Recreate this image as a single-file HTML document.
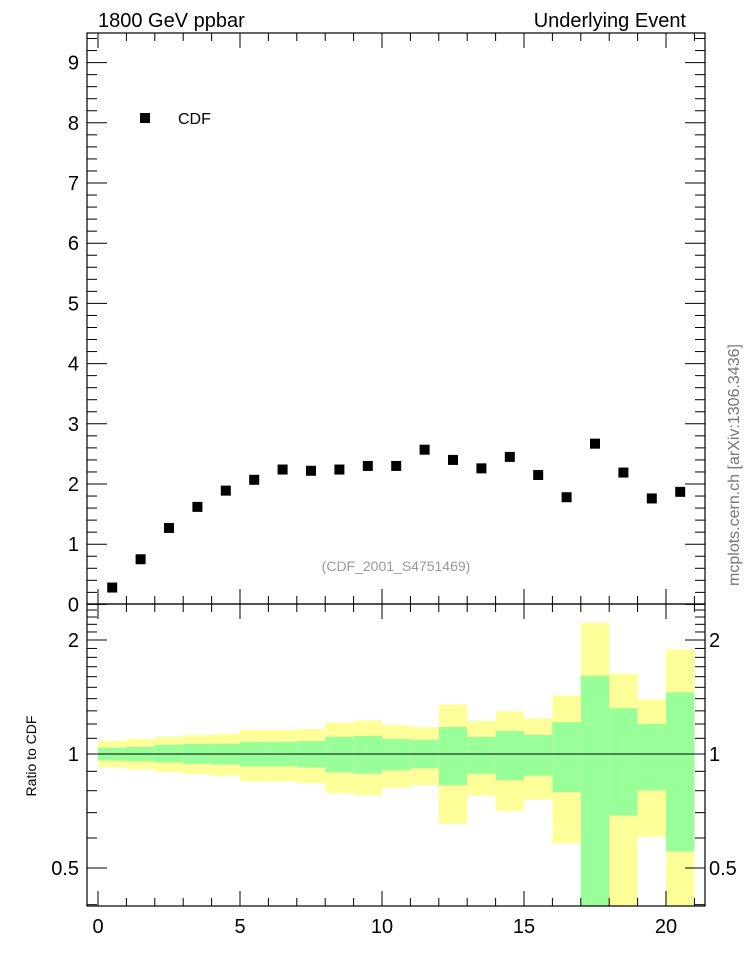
<!DOCTYPE html>
<html><head><meta charset="utf-8"><style>
html,body{margin:0;padding:0;background:#fff}
svg{display:block;font-family:"Liberation Sans",sans-serif}
</style></head><body>
<svg id="c" width="746" height="972" viewBox="0 0 746 972" xmlns="http://www.w3.org/2000/svg">
<text x="98" y="27" font-size="20">1800 GeV ppbar</text>
<text x="686" y="27" font-size="20" text-anchor="end">Underlying Event</text>
<text transform="translate(739,465) rotate(-90)" font-size="16" fill="#777" text-anchor="middle">mcplots.cern.ch [arXiv:1306.3436]</text>
<text x="396" y="571" font-size="14" fill="#999" text-anchor="middle">(CDF_2001_S4751469)</text>
<rect x="140" y="113" width="10" height="10" fill="#000"/>
<text x="178" y="124" font-size="16">CDF</text>
<text transform="translate(36,756) rotate(-90)" font-size="14" text-anchor="middle">Ratio to CDF</text>
<g id="bands"></g><g id="pts"></g><g id="axes"></g>
</svg>
<script>
const binEdges=[0,1,2,3,4,5,6,7,8,9,10,11,12,13,14,15,16,17,18,19,20,21];
const xCenters=[0.5,1.5,2.5,3.5,4.5,5.5,6.5,7.5,8.5,9.5,10.5,11.5,12.5,13.5,14.5,15.5,16.5,17.5,18.5,19.5,20.5];
const cdfValues=[0.28,0.75,1.27,1.62,1.89,2.07,2.24,2.22,2.24,2.30,2.30,2.57,2.40,2.26,2.45,2.15,1.78,2.67,2.19,1.76,1.87];
const yellowUp=[1.083,1.096,1.110,1.123,1.130,1.157,1.157,1.164,1.212,1.227,1.193,1.178,1.351,1.222,1.297,1.242,1.428,2.22,1.630,1.394,1.89];
const greenUp=[1.039,1.045,1.058,1.064,1.064,1.077,1.077,1.083,1.110,1.117,1.096,1.090,1.178,1.110,1.150,1.123,1.214,1.611,1.321,1.200,1.455];
const greenDown=[0.961,0.957,0.949,0.942,0.938,0.927,0.927,0.921,0.894,0.887,0.905,0.916,0.827,0.887,0.852,0.876,0.793,0.3,0.688,0.802,0.553];
const yellowDown=[0.921,0.910,0.896,0.885,0.876,0.847,0.847,0.837,0.788,0.778,0.814,0.827,0.654,0.777,0.707,0.758,0.581,0.3,0.3,0.605,0.3];
const mainTicks=[0,1,2,3,4,5,6,7,8,9];
const ratioTicks=[0.5,1,2];
const xTicks=[0,5,10,15,20];

const NS="http://www.w3.org/2000/svg";
const L=87,R=705,T=33,M=604,B=906;
const X=v=>98+(v)*28.4;
const Y=v=>604.4-v*60.2;
const YR=v=>{let y=754-Math.log2(v)*114;return Math.max(M,Math.min(B,y));};
function mk(tag,attrs,parent){const e=document.createElementNS(NS,tag);for(const k in attrs)e.setAttribute(k,attrs[k]);parent.appendChild(e);return e;}
const bands=document.getElementById('bands'),pts=document.getElementById('pts'),ax=document.getElementById('axes');
for(let i=0;i<xCenters.length;i++){
  const x0=X(binEdges[i]),x1=X(binEdges[i+1]);
  const yb=mk('rect',{x:x0,y:YR(yellowUp[i]),width:x1-x0,height:YR(yellowDown[i])-YR(yellowUp[i]),fill:'#ffff99'},bands);
  
  
  const gb=mk('rect',{x:x0,y:YR(greenUp[i]),width:x1-x0,height:YR(greenDown[i])-YR(greenUp[i]),fill:'#99ff99'},bands);
  
  
  const p=mk('rect',{x:X(xCenters[i])-5,y:Y(cdfValues[i])-5,width:10,height:10,fill:'#000'},pts);
  
  
}
const ref=mk('line',{x1:X(0),x2:X(21),y1:YR(1),y2:YR(1),stroke:'#000','stroke-width':1},ax);


const fr1=mk('rect',{x:L,y:T,width:R-L,height:M-T,fill:'none',stroke:'#000','stroke-width':1.2},ax);


const fr2=mk('rect',{x:L,y:M,width:R-L,height:B-M,fill:'none',stroke:'#000','stroke-width':1.2},ax);


function ln(x1,y1,x2,y2){mk('line',{x1,y1,x2,y2,stroke:'#000','stroke-width':1},ax);}
// x ticks
for(let v=0;v<=21;v++){
  const major=v%5===0, len=major?15:8, x=X(v);
  ln(x,T,x,T+len);ln(x,M,x,M-len);ln(x,M,x,M+len);ln(x,B,x,B-len);
}
xTicks.forEach(v=>{const t=mk('text',{x:X(v),y:B+27,'font-size':20,'text-anchor':'middle'},ax);t.textContent=v;

});
// main y ticks
for(let k=0;k<=47;k++){const v=k*0.2,y=Y(v);if(y<T)continue;const len=k%5===0?20:10;ln(L,y,L+len,y);ln(R,y,R-len,y);}
mainTicks.forEach(v=>{const t=mk('text',{x:79,y:Y(v)+7,'font-size':20,'text-anchor':'end'},ax);t.textContent=v;

});
// ratio y ticks
[0.4,0.5,0.6,0.7,0.8,0.9,1,1.1,1.2,1.3,1.4,1.5,1.6,1.7,1.8,1.9,2,2.1,2.2,2.3,2.4].forEach(v=>{
  const y=754-Math.log2(v)*114;if(y<M||y>B)return;const len=(v===0.5||v===1||v===2)?20:10;ln(L,y,L+len,y);ln(R,y,R-len,y);});
ratioTicks.forEach(v=>{
  const t=mk('text',{x:79,y:YR(v)+7,'font-size':20,'text-anchor':'end'},ax);t.textContent=v;
  
  
  const t2=mk('text',{x:709,y:YR(v)+7,'font-size':20},ax);t2.textContent=v;
  
  
});
</script>
</body></html>
